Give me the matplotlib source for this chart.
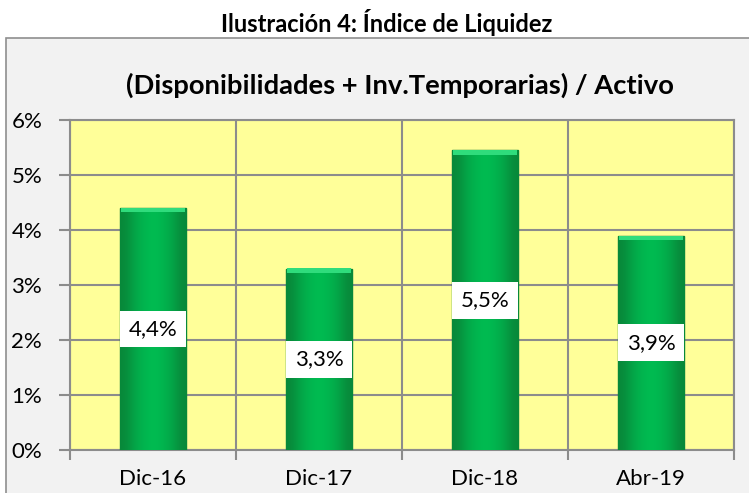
import numpy as np
import matplotlib
matplotlib.use("Agg")
import matplotlib.pyplot as plt
from matplotlib.patches import Rectangle
from matplotlib.ticker import FuncFormatter, FixedLocator

# datos del grafico
periodos = ["Dic-16", "Dic-17", "Dic-18", "Abr-19"]
liquidez = [0.044, 0.033, 0.0545, 0.039]
etiquetas = ["4,4%", "3,3%", "5,5%", "3,9%"]
yticks = [0, 0.01, 0.02, 0.03, 0.04, 0.05, 0.06]

plt.rcParams['font.family'] = ['Lato', 'DejaVu Sans']

W, H = 749, 493
fig = plt.figure(figsize=(W / 100, H / 100), dpi=100)
fig.patch.set_facecolor('white')

# marco del grafico (area gris)
marco = Rectangle((6 / W, -0.05), 1.2, 1 - 38 / H + 0.05, transform=fig.transFigure,
                  facecolor='#f2f2f2', edgecolor='#8f8f8f', linewidth=1.2, zorder=-1)
fig.patches.append(marco)

fig.text(387 / W, 1 - 22 / H, "Ilustración 4: Índice de Liquidez", ha='center', va='center',
         fontsize=17, fontweight='bold', color='black')
fig.text(400 / W, 1 - 85 / H, "(Disponibilidades + Inv.Temporarias) / Activo", ha='center',
         va='center', fontsize=19.7, fontweight='bold', color='black')

ax = fig.add_axes([70 / W, (H - 450) / H, 664 / W, 330 / H])
ax.set_zorder(1)
ax.set_facecolor('#ffff99')

x = np.arange(len(periodos))
bars = ax.bar(x, liquidez, width=0.4, color='#00b050', edgecolor='#0b7a35',
              linewidth=1.0, zorder=3)

# degradado horizontal en cada barra
grad = np.array([[0.0, 0.55, 0.85, 1.0, 0.85, 0.55, 0.0]])
cmap = matplotlib.colors.LinearSegmentedColormap.from_list('verde', ['#08883a', '#00bd52'])
for b in bars:
    bx, by = b.get_x(), b.get_y()
    im = ax.imshow(grad, cmap=cmap, aspect='auto', interpolation='bicubic',
                   extent=[bx, bx + b.get_width(), by, by + b.get_height()], zorder=3.5)
    im.set_clip_path(b)
    # brillo superior
    ax.bar(b.get_x() + b.get_width() / 2, 0.0008, bottom=b.get_height() - 0.0008,
           width=b.get_width() * 0.96, color='#2fdc7c', linewidth=0, zorder=3.6)

for xi, v, t in zip(x, liquidez, etiquetas):
    ax.text(xi, v / 2, t, ha='center', va='center', fontsize=16, color='black', zorder=5,
            bbox=dict(boxstyle='square,pad=0.38', facecolor='white', edgecolor='none'))

ax.set_xlim(-0.5, len(periodos) - 0.5)
ax.set_ylim(0, 0.06)
ax.set_yticks(yticks)
ax.yaxis.set_major_formatter(FuncFormatter(lambda v, p: f"{v * 100:.0f}%"))
ax.set_xticks(x)
ax.set_xticklabels(periodos)
ax.xaxis.set_minor_locator(FixedLocator(np.arange(len(periodos) + 1) - 0.5))

gris = '#8c8c8c'
ax.grid(axis='y', which='major', color=gris, linewidth=1.5, zorder=1)
ax.grid(axis='x', which='minor', color=gris, linewidth=1.5, zorder=1)
ax.set_axisbelow(True)
for s in ax.spines.values():
    s.set_color(gris)
    s.set_linewidth(1.5)

ax.tick_params(axis='y', direction='out', length=8, width=1.5, color=gris,
               pad=12, labelsize=16, labelcolor='black')
ax.tick_params(axis='x', which='major', length=0, pad=14, labelsize=16, labelcolor='black')
ax.tick_params(axis='x', which='minor', direction='out', length=7, width=1.5, color=gris)

fig.savefig("out.png", dpi=100)
